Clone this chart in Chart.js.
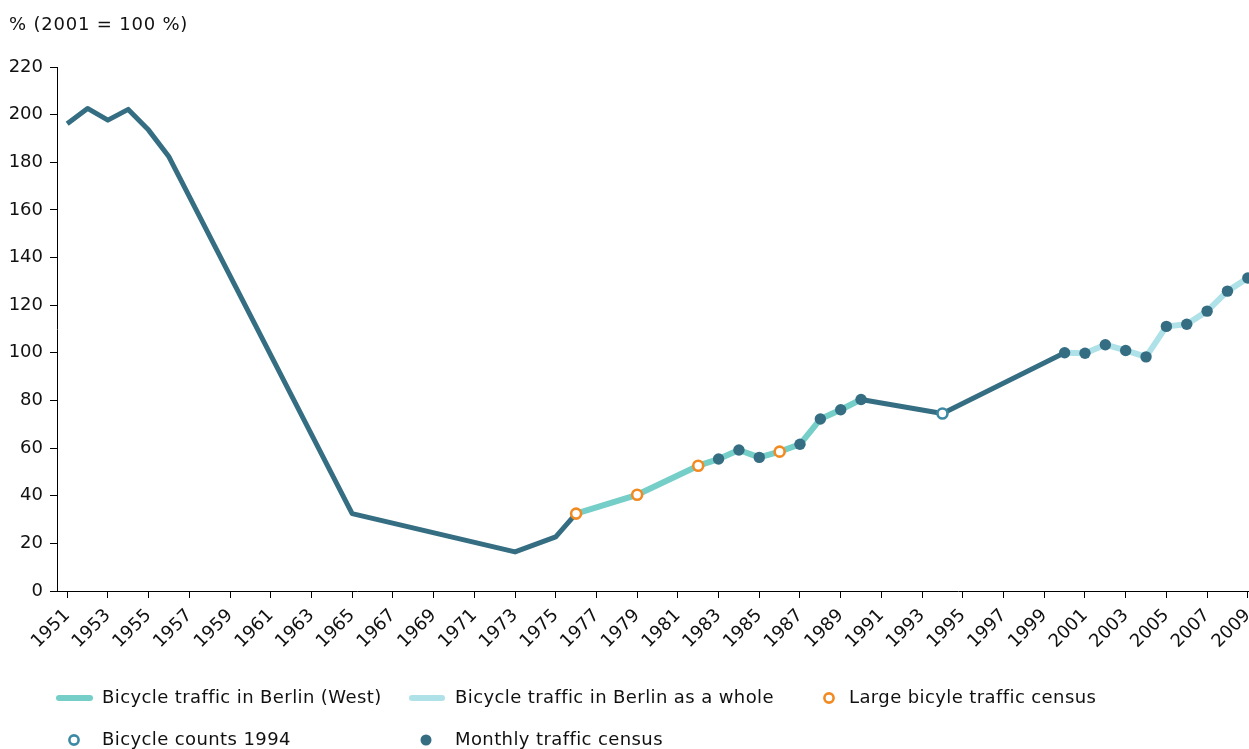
<!DOCTYPE html>
<html>
<head>
<meta charset="utf-8">
<script src="https://cdn.jsdelivr.net/npm/chart.js@4.4.1/dist/chart.umd.min.js"></script>
<style>
  html, body { margin: 0; padding: 0; background: #fff; overflow: hidden; width: 1249px; height: 749px; }
  #wrap { position: absolute; left: 0; top: 0; width: 1258px; height: 749px; }
  canvas { display: block; }
</style>
</head>
<body>
<div id="wrap"><canvas id="c" width="1258" height="749" style="width:1258px;height:749px"></canvas></div>
<script>
// ---- Data ----
const yAxisTitle = '% (2001 = 100 %)';
const xTickYears = [1951,1953,1955,1957,1959,1961,1963,1965,1967,1969,1971,1973,1975,1977,1979,1981,1983,1985,1987,1989,1991,1993,1995,1997,1999,2001,2003,2005,2007,2009];
const yTicks = [0,20,40,60,80,100,120,140,160,180,200,220];

// Dark line, early part (Berlin West, 1951-1976)
const earlyYears  = [1951, 1952, 1953, 1954, 1955, 1956, 1965, 1973, 1975, 1976];
const earlyValues = [196.2, 202.6, 197.7, 202.2, 193.5, 182.3, 32.5, 16.4, 22.7, 32.5];

// Bicycle traffic in Berlin (West), 1976-1990
const westYears  = [1976, 1979, 1982, 1983, 1984, 1985, 1986, 1987, 1988, 1989, 1990];
const westValues = [32.5, 40.4, 52.6, 55.4, 59.2, 56.1, 58.5, 61.6, 72.2, 76.1, 80.4];

// Dark line, 1990-2000 bridge
const bridgeYears  = [1990, 1994, 2000];
const bridgeValues = [80.4, 74.5, 100.0];

// Bicycle traffic in Berlin as a whole, 2000-2009
const wholeYears  = [2000, 2001, 2002, 2003, 2004, 2005, 2006, 2007, 2008, 2009];
const wholeValues = [100.0, 99.8, 103.4, 101.0, 98.3, 111.1, 112.0, 117.5, 125.9, 131.4];

// Markers
const censusYears  = [1976, 1979, 1982, 1986];
const censusValues = [32.5, 40.4, 52.6, 58.5];
const counts1994Years  = [1994];
const counts1994Values = [74.5];
const monthlyYears  = [1983, 1984, 1985, 1987, 1988, 1989, 1990, 2000, 2001, 2002, 2003, 2004, 2005, 2006, 2007, 2008, 2009];
const monthlyValues = [55.4, 59.2, 56.1, 61.6, 72.2, 76.1, 80.4, 100.0, 99.8, 103.4, 101.0, 98.3, 111.1, 112.0, 117.5, 125.9, 131.4];

const legendLabels = [
  'Bicycle traffic in Berlin (West)',
  'Bicycle traffic in Berlin as a whole',
  'Large bicyle traffic census',
  'Bicycle counts 1994',
  'Monthly traffic census'
];

// ---- Styling ----
const C_DARK = '#356e83';
const C_WEST = '#76cec8';
const C_WHOLE = '#afe1e8';
const C_ORANGE = '#f28a22';
const C_RING = '#3d89a4';
const FONT = '"DejaVu Sans", Verdana, sans-serif';

const pts = (xs, ys) => xs.map((x, i) => ({x: x, y: ys[i]}));

const lineBase = {
  showLine: true, pointRadius: 0, pointHoverRadius: 0, fill: false,
  borderJoinStyle: 'round', borderCapStyle: 'butt', tension: 0
};

const data = {
  datasets: [
    { label: 'monthly', data: pts(monthlyYears, monthlyValues), showLine: false, order: 0,
      pointRadius: 5.7, pointBackgroundColor: C_DARK, pointBorderColor: C_DARK, pointBorderWidth: 0 },
    { label: 'census', data: pts(censusYears, censusValues), showLine: false, order: 0,
      pointRadius: 5, pointBackgroundColor: '#fff', pointBorderColor: C_ORANGE, pointBorderWidth: 2.6 },
    { label: 'counts1994', data: pts(counts1994Years, counts1994Values), showLine: false, order: 0,
      pointRadius: 5, pointBackgroundColor: '#fff', pointBorderColor: C_RING, pointBorderWidth: 2.6 },
    Object.assign({ label: 'west', data: pts(westYears, westValues), borderColor: C_WEST, borderWidth: 6, order: 2 }, lineBase),
    Object.assign({ label: 'whole', data: pts(wholeYears, wholeValues), borderColor: C_WHOLE, borderWidth: 6, order: 2 }, lineBase),
    Object.assign({ label: 'early', data: pts(earlyYears, earlyValues), borderColor: C_DARK, borderWidth: 5, order: 1 }, lineBase),
    Object.assign({ label: 'bridge', data: pts(bridgeYears, bridgeValues), borderColor: C_DARK, borderWidth: 5, order: 1 }, lineBase)
  ]
};

const overlay = {
  id: 'overlay',
  afterDraw(chart) {
    const ctx = chart.ctx;
    ctx.save();
    ctx.fillStyle = '#111';
    ctx.font = '18px ' + FONT;
    ctx.textBaseline = 'middle';
    ctx.textAlign = 'left';
    ctx.letterSpacing = '0.8px';
    ctx.fillText(yAxisTitle, 9, 25);

    // legend
    const r1 = 698, r2 = 740;
    ctx.lineCap = 'round';
    ctx.lineWidth = 6;
    ctx.strokeStyle = C_WEST;
    ctx.beginPath(); ctx.moveTo(59, r1); ctx.lineTo(90, r1); ctx.stroke();
    ctx.strokeStyle = C_WHOLE;
    ctx.beginPath(); ctx.moveTo(412, r1); ctx.lineTo(442, r1); ctx.stroke();
    ctx.lineWidth = 2.6;
    ctx.fillStyle = '#fff';
    ctx.strokeStyle = C_ORANGE;
    ctx.beginPath(); ctx.arc(829, r1, 4.6, 0, Math.PI * 2); ctx.fill(); ctx.stroke();
    ctx.strokeStyle = C_RING;
    ctx.beginPath(); ctx.arc(74, r2, 4.6, 0, Math.PI * 2); ctx.fill(); ctx.stroke();
    ctx.fillStyle = C_DARK;
    ctx.beginPath(); ctx.arc(426, r2, 5.5, 0, Math.PI * 2); ctx.fill();

    ctx.fillStyle = '#111';
    ctx.letterSpacing = '0.4px';
    ctx.fillText(legendLabels[0], 102, r1);
    ctx.fillText(legendLabels[1], 455, r1);
    ctx.fillText(legendLabels[2], 849, r1);
    ctx.fillText(legendLabels[3], 102, r2);
    ctx.fillText(legendLabels[4], 455, r2);
    ctx.restore();
  }
};

new Chart(document.getElementById('c'), {
  type: 'scatter',
  data: data,
  plugins: [overlay],
  options: {
    responsive: false,
    maintainAspectRatio: false,
    animation: false,
    devicePixelRatio: 1,
    layout: { autoPadding: false, padding: { top: 67, left: 0, right: 0, bottom: 78 } },
    plugins: { legend: { display: false }, tooltip: { enabled: false }, title: { display: false } },
    scales: {
      x: {
        type: 'linear', min: 1950.5, max: 2009.5,
        afterBuildTicks: (s) => { s.ticks = xTickYears.map(v => ({ value: v })); },
        afterFit: (s) => { s.height = 80; s.paddingLeft = 0; s.paddingRight = 0; },
        grid: { drawOnChartArea: false, drawTicks: true, tickLength: 7, color: '#000', lineWidth: 1 },
        border: { display: true, color: '#000', width: 1 },
        ticks: { autoSkip: false, minRotation: 45, maxRotation: 45, padding: 7, color: '#111',
                 font: { family: FONT, size: 18 }, callback: (v) => String(v) }
      },
      y: {
        type: 'linear', min: 0, max: 220,
        afterBuildTicks: (s) => { s.ticks = yTicks.map(v => ({ value: v })); },
        afterFit: (s) => { s.width = 57; },
        grid: { drawOnChartArea: false, drawTicks: true, tickLength: 7, color: '#000', lineWidth: 1 },
        border: { display: true, color: '#000', width: 1 },
        ticks: { padding: 7, color: '#111', font: { family: FONT, size: 18 } }
      }
    }
  }
});
</script>
</body>
</html>
